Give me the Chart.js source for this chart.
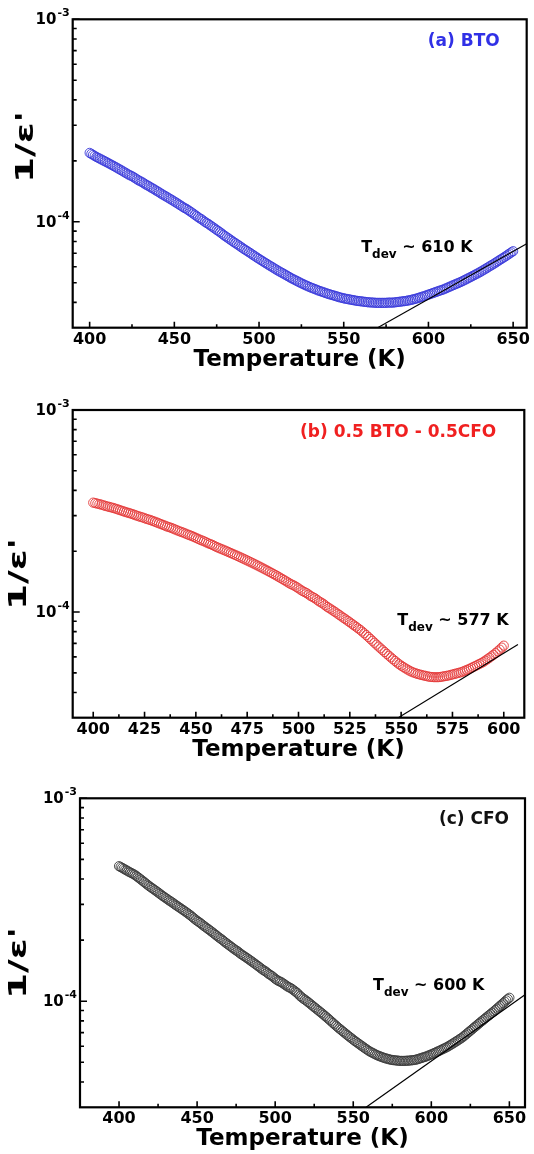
<!DOCTYPE html>
<html>
<head>
<meta charset="utf-8">
<script src="https://cdn.jsdelivr.net/npm/chart.js@4.4.1/dist/chart.umd.min.js"></script>
<style>
  html, body { margin: 0; padding: 0; background: #fff; }
  .panel { position: absolute; left: 0; width: 534px; }
</style>
</head>
<body>
<div class="panel" style="top:0;height:385px"><canvas id="chartBTO" width="534" height="385"></canvas></div>
<div class="panel" style="top:385px;height:385px"><canvas id="chartMix" width="534" height="385"></canvas></div>
<div class="panel" style="top:770px;height:384px"><canvas id="chartCFO" width="534" height="384"></canvas></div>
<script>
// ===================================================
// 1/ε' vs temperature, three samples on log axes
// ===================================================

// 1/ε' readings stored as value x 1e5, one per kelvin starting at 400 K
const T_START = 400;
const T_STEP = 1;

const invEpsBTO = [
  21.9, 21.65, 21.4, 21.15, 20.9, 20.7, 20.5, 20.3, 20.1, 19.9,
  19.7, 19.5, 19.3, 19.1, 18.9, 18.7, 18.5, 18.3, 18.1, 17.9,
  17.7, 17.5, 17.3, 17.1, 16.95, 16.8, 16.6, 16.4, 16.2, 16.0,
  15.85, 15.7, 15.5, 15.3, 15.15, 15.0, 14.8, 14.65, 14.5, 14.3,
  14.15, 14.0, 13.8, 13.65, 13.5, 13.35, 13.2, 13.05, 12.9, 12.75,
  12.6, 12.45, 12.3, 12.15, 12.0, 11.85, 11.7, 11.6, 11.45, 11.3,
  11.15, 11.0, 10.85, 10.7, 10.55, 10.4, 10.3, 10.15, 10.0, 9.88,
  9.77, 9.63, 9.5, 9.38, 9.25, 9.12, 9.0, 8.88, 8.75, 8.62,
  8.5, 8.39, 8.28, 8.17, 8.06, 7.95, 7.85, 7.75, 7.65, 7.55,
  7.45, 7.35, 7.26, 7.17, 7.08, 6.99, 6.9, 6.81, 6.73, 6.64,
  6.56, 6.48, 6.4, 6.32, 6.25, 6.17, 6.1, 6.03, 5.96, 5.89,
  5.82, 5.75, 5.69, 5.63, 5.57, 5.51, 5.45, 5.39, 5.33, 5.27,
  5.22, 5.17, 5.12, 5.07, 5.02, 4.97, 4.93, 4.88, 4.84, 4.8,
  4.76, 4.72, 4.69, 4.65, 4.62, 4.58, 4.55, 4.52, 4.49, 4.46,
  4.43, 4.4, 4.38, 4.35, 4.33, 4.3, 4.28, 4.25, 4.23, 4.21,
  4.19, 4.17, 4.16, 4.14, 4.13, 4.11, 4.10, 4.08, 4.07, 4.06,
  4.05, 4.04, 4.03, 4.02, 4.01, 4.0, 4.0, 3.99, 3.99, 3.98,
  3.98, 3.98, 3.98, 3.98, 3.98, 3.98, 3.99, 3.99, 3.99, 3.99,
  4.0, 4.01, 4.02, 4.03, 4.04, 4.05, 4.06, 4.07, 4.09, 4.1,
  4.12, 4.14, 4.16, 4.18, 4.21, 4.23, 4.26, 4.28, 4.31, 4.34,
  4.37, 4.4, 4.43, 4.46, 4.49, 4.52, 4.55, 4.58, 4.61, 4.64,
  4.68, 4.72, 4.76, 4.8, 4.84, 4.88, 4.92, 4.96, 5.0, 5.04,
  5.09, 5.14, 5.19, 5.24, 5.29, 5.34, 5.4, 5.45, 5.51, 5.56,
  5.62, 5.68, 5.75, 5.81, 5.88, 5.95, 6.02, 6.09, 6.16, 6.23,
  6.31, 6.39, 6.47, 6.55, 6.63, 6.71, 6.8, 6.89, 6.98, 7.07,
  7.16,
];

const invEpsMix = [
  34.8, 34.6, 34.4, 34.2, 34.0, 33.75, 33.5, 33.3, 33.1, 32.9,
  32.7, 32.45, 32.2, 31.95, 31.7, 31.45, 31.2, 31.0, 30.8, 30.55,
  30.3, 30.05, 29.8, 29.6, 29.4, 29.15, 28.9, 28.7, 28.5, 28.25,
  28.0, 27.75, 27.5, 27.25, 27.0, 26.75, 26.5, 26.3, 26.1, 25.85,
  25.6, 25.35, 25.1, 24.9, 24.7, 24.45, 24.2, 24.0, 23.8, 23.55,
  23.3, 23.05, 22.8, 22.6, 22.4, 22.15, 21.9, 21.7, 21.5, 21.25,
  21.0, 20.8, 20.6, 20.4, 20.2, 20.0, 19.8, 19.6, 19.4, 19.2,
  19.0, 18.8, 18.6, 18.4, 18.2, 18.0, 17.8, 17.6, 17.4, 17.2,
  17.0, 16.8, 16.6, 16.4, 16.2, 16.0, 15.8, 15.6, 15.4, 15.2,
  15.0, 14.8, 14.6, 14.4, 14.2, 14.0, 13.8, 13.65, 13.5, 13.3,
  13.1, 12.9, 12.7, 12.55, 12.4, 12.2, 12.0, 11.85, 11.7, 11.5,
  11.3, 11.15, 11.0, 10.8, 10.6, 10.45, 10.3, 10.14, 9.98, 9.82,
  9.66, 9.5, 9.35, 9.2, 9.05, 8.9, 8.75, 8.6, 8.46, 8.31,
  8.17, 8.01, 7.85, 7.69, 7.53, 7.37, 7.21, 7.05, 6.9, 6.75,
  6.61, 6.47, 6.34, 6.21, 6.08, 5.96, 5.84, 5.73, 5.62, 5.52,
  5.43, 5.35, 5.27, 5.2, 5.13, 5.07, 5.02, 4.98, 4.94, 4.91,
  4.88, 4.85, 4.83, 4.8, 4.78, 4.77, 4.76, 4.76, 4.76, 4.77,
  4.79, 4.81, 4.83, 4.85, 4.88, 4.91, 4.94, 4.97, 5.0, 5.03,
  5.07, 5.12, 5.17, 5.22, 5.28, 5.34, 5.4, 5.46, 5.53, 5.59,
  5.66, 5.75, 5.84, 5.94, 6.04, 6.15, 6.26, 6.39, 6.52, 6.67,
  6.82,
];

const invEpsCFO = [
  46.3, 45.85, 45.4, 44.95, 44.5, 44.05, 43.6, 43.2, 42.8, 42.4,
  42.0, 41.45, 40.9, 40.35, 39.8, 39.25, 38.7, 38.15, 37.6, 37.1,
  36.6, 36.15, 35.7, 35.25, 34.8, 34.35, 33.9, 33.45, 33.0, 32.6,
  32.2, 31.8, 31.4, 31.05, 30.7, 30.3, 29.9, 29.55, 29.2, 28.85,
  28.5, 28.15, 27.8, 27.45, 27.1, 26.75, 26.4, 26.0, 25.6, 25.25,
  24.9, 24.6, 24.3, 23.95, 23.6, 23.3, 23.0, 22.7, 22.4, 22.1,
  21.8, 21.5, 21.2, 20.9, 20.6, 20.35, 20.1, 19.8, 19.5, 19.25,
  19.0, 18.75, 18.5, 18.25, 18.0, 17.8, 17.6, 17.35, 17.1, 16.9,
  16.7, 16.5, 16.3, 16.1, 15.9, 15.7, 15.5, 15.3, 15.1, 14.9,
  14.7, 14.5, 14.3, 14.15, 14.0, 13.8, 13.6, 13.45, 13.3, 13.1,
  12.9, 12.75, 12.6, 12.5, 12.4, 12.25, 12.1, 11.95, 11.8, 11.7,
  11.6, 11.45, 11.3, 11.15, 11.0, 10.8, 10.6, 10.45, 10.3, 10.18,
  10.05, 9.91, 9.77, 9.63, 9.49, 9.35, 9.22, 9.09, 8.96, 8.83,
  8.71, 8.58, 8.45, 8.32, 8.2, 8.07, 7.94, 7.81, 7.69, 7.57,
  7.45, 7.34, 7.24, 7.13, 7.03, 6.93, 6.83, 6.73, 6.64, 6.55,
  6.46, 6.37, 6.29, 6.21, 6.13, 6.05, 5.98, 5.9, 5.83, 5.76,
  5.69, 5.63, 5.58, 5.53, 5.48, 5.43, 5.39, 5.35, 5.32, 5.28,
  5.25, 5.22, 5.2, 5.17, 5.15, 5.13, 5.12, 5.11, 5.1, 5.09,
  5.08, 5.08, 5.08, 5.08, 5.09, 5.09, 5.1, 5.11, 5.12, 5.13,
  5.15, 5.17, 5.2, 5.23, 5.26, 5.29, 5.32, 5.35, 5.39, 5.43,
  5.47, 5.51, 5.56, 5.6, 5.65, 5.69, 5.74, 5.79, 5.84, 5.89,
  5.94, 6.0, 6.07, 6.13, 6.2, 6.27, 6.34, 6.41, 6.49, 6.56,
  6.64, 6.74, 6.84, 6.94, 7.05, 7.15, 7.26, 7.37, 7.48, 7.59,
  7.71, 7.82, 7.94, 8.05, 8.17, 8.29, 8.41, 8.53, 8.66, 8.78,
  8.91, 9.05, 9.19, 9.33, 9.48, 9.63, 9.78, 9.94, 10.1, 10.25,
  10.4,
];

// straight fits above T_dev, [T (K), 1/ε'] end points
const fitBTO = [[570, 3.0e-5], [658, 7.8e-5]];
const fitMix = [[548.6, 3.0e-5], [606.9, 6.9e-5]];
const fitCFO = [[558.2, 3.0e-5], [660, 1.077e-4]];

// T_dev values (K)
const tdevValues = [610, 577, 600];

// axis ticks
const xTicksBTO = [400, 450, 500, 550, 600, 650];
const xMinorBTO = [425, 475, 525, 575, 625];
const xTicksMix = [400, 425, 450, 475, 500, 525, 550, 575, 600];
const xMinorMix = [412.5, 437.5, 462.5, 487.5, 512.5, 537.5, 562.5, 587.5];
const xTicksCFO = [400, 450, 500, 550, 600, 650];
const xMinorCFO = [425, 475, 525, 575, 625];
const yTicks = [1e-4, 1e-3];
const yMinor = [4e-5, 5e-5, 6e-5, 7e-5, 8e-5, 9e-5, 2e-4, 3e-4, 4e-4, 5e-4, 6e-4, 7e-4, 8e-4, 9e-4];

const FONT = '"DejaVu Sans", "Liberation Sans", sans-serif';

// frame, inward ticks, power-of-ten labels and notes on top of each panel
function makeDecor(p) {
  return {
    id: 'decor',
    afterDatasetsDraw(chart) {
      const { ctx, chartArea: a, scales: { x, y } } = chart;
      ctx.save();
      ctx.strokeStyle = '#000';
      ctx.lineWidth = 1.6;
      ctx.beginPath();
      p.xTicks.forEach(v => { const px = x.getPixelForValue(v); ctx.moveTo(px, a.bottom); ctx.lineTo(px, a.bottom - 6); });
      p.xMinor.forEach(v => { const px = x.getPixelForValue(v); ctx.moveTo(px, a.bottom); ctx.lineTo(px, a.bottom - 3.5); });
      yTicks.forEach(v => { const py = y.getPixelForValue(v); ctx.moveTo(a.left, py); ctx.lineTo(a.left + 7, py); });
      yMinor.forEach(v => { const py = y.getPixelForValue(v); ctx.moveTo(a.left, py); ctx.lineTo(a.left + 4, py); });
      ctx.stroke();

      ctx.lineWidth = 2.2;
      ctx.strokeRect(a.left, a.top, a.right - a.left, a.bottom - a.top);

      // y tick labels: 10 with a raised exponent
      ctx.fillStyle = '#000';
      ctx.textAlign = 'right';
      ctx.textBaseline = 'middle';
      yTicks.forEach(v => {
        const py = y.getPixelForValue(v);
        const exp = String(Math.round(Math.log10(v)));
        ctx.font = 'bold 11px ' + FONT;
        const ew = ctx.measureText(exp).width;
        ctx.fillText(exp, a.left - 3, py - 6);
        ctx.font = 'bold 15px ' + FONT;
        ctx.fillText('10', a.left - 4 - ew, py + 1);
      });

      // sample name
      ctx.fillStyle = p.labelColor;
      ctx.font = 'bold 17px ' + FONT;
      ctx.textAlign = 'right';
      ctx.textBaseline = 'middle';
      ctx.fillText(p.label, a.right - p.labelInset, a.top + p.labelDy);

      // T_dev note
      ctx.fillStyle = '#000';
      ctx.textAlign = 'left';
      ctx.textBaseline = 'alphabetic';
      let tx = x.getPixelForValue(p.tdevAt[0]);
      const ty = y.getPixelForValue(p.tdevAt[1]);
      ctx.font = 'bold 16px ' + FONT;
      ctx.fillText('T', tx, ty);
      tx += ctx.measureText('T').width;
      ctx.font = 'bold 12px ' + FONT;
      ctx.fillText('dev', tx, ty + 6);
      tx += ctx.measureText('dev').width;
      ctx.font = 'bold 16px ' + FONT;
      ctx.fillText(' ~ ' + p.tdev + ' K', tx, ty);

      // y axis title
      ctx.translate(p.titleX, a.top + p.titleDy);
      ctx.rotate(-Math.PI / 2);
      ctx.font = 'bold 24px ' + FONT;
      const w = ctx.measureText("1/\u03B5'").width;
      ctx.scale(72 / w, 1);
      ctx.textAlign = 'center';
      ctx.textBaseline = 'middle';
      ctx.fillText("1/\u03B5'", 0, 0);
      ctx.restore();
    },
  };
}

const panels = [
  {
    canvas: 'chartBTO', values: invEpsBTO, fit: fitBTO, tdev: tdevValues[0],
    xMin: 390, xMax: 658, xTicks: xTicksBTO, xMinor: xMinorBTO,
    color: '#3a3ada', labelColor: '#3030e6', label: '(a) BTO',
    padTop: 19.3, padRight: 4, yWidth: 72.7, xHeight: 57.3,
    labelInset: 27, labelDy: 22, tdevAt: [560.3, 7.06e-5], titleX: 26.7, titleDy: 127.7,
  },
  {
    canvas: 'chartMix', values: invEpsMix, fit: fitMix, tdev: tdevValues[1],
    xMin: 390, xMax: 610, xTicks: xTicksMix, xMinor: xMinorMix,
    color: '#e43838', labelColor: '#f02020', label: '(b) 0.5 BTO - 0.5CFO',
    padTop: 25, padRight: 9.7, yWidth: 72.7, xHeight: 52.3,
    labelInset: 28, labelDy: 23, tdevAt: [548.1, 8.65e-5], titleX: 20, titleDy: 164,
  },
  {
    canvas: 'chartCFO', values: invEpsCFO, fit: fitCFO, tdev: tdevValues[2],
    xMin: 375, xMax: 660, xTicks: xTicksCFO, xMinor: xMinorCFO,
    color: '#3a3a3a', labelColor: '#111', label: '(c) CFO',
    padTop: 28.3, padRight: 9, yWidth: 80, xHeight: 46.7,
    labelInset: 16, labelDy: 21, tdevAt: [562.7, 1.133e-4], titleX: 19.7, titleDy: 164.7,
  },
];

panels.forEach(p => {
  const points = p.values.map((v, i) => ({ x: T_START + i * T_STEP, y: v * 1e-5 }));
  const fitLine = p.fit.map(([t, v]) => ({ x: t, y: v }));

  new Chart(document.getElementById(p.canvas), {
    type: 'scatter',
    data: {
      datasets: [
        {
          data: fitLine,
          showLine: true,
          borderColor: '#000',
          borderWidth: 1.2,
          pointRadius: 0,
          order: 0,
        },
        {
          data: points,
          borderColor: p.color,
          backgroundColor: 'rgba(0,0,0,0)',
          borderWidth: 0.9,
          pointRadius: 4.6,
          order: 1,
        },
      ],
    },
    options: {
      responsive: false,
      animation: false,
      devicePixelRatio: 1,
      layout: { padding: { top: p.padTop, right: p.padRight, left: 0, bottom: 0 } },
      plugins: { legend: { display: false }, tooltip: { enabled: false } },
      scales: {
        x: {
          type: 'linear',
          min: p.xMin,
          max: p.xMax,
          afterBuildTicks: axis => { axis.ticks = p.xTicks.map(v => ({ value: v })); },
          afterFit: axis => { axis.height = p.xHeight; },
          grid: { display: false, drawTicks: false },
          border: { display: false },
          ticks: {
            autoSkip: false,
            maxRotation: 0,
            padding: 4,
            color: '#000',
            font: { family: FONT, weight: 'bold', size: 16, lineHeight: 1 },
            callback: v => String(v),
          },
          title: {
            display: true,
            text: 'Temperature (K)',
            color: '#000',
            font: { family: FONT, weight: 'bold', size: 23, lineHeight: 1 },
            padding: { top: 0, bottom: p.xHeight - 43.5 },
          },
        },
        y: {
          type: 'logarithmic',
          min: 3e-5,
          max: 1e-3,
          afterBuildTicks: axis => { axis.ticks = yTicks.map(v => ({ value: v, major: true })); },
          afterFit: axis => { axis.width = p.yWidth; },
          grid: { display: false, drawTicks: false },
          border: { display: false },
          ticks: { display: false },
        },
      },
    },
    plugins: [makeDecor(p)],
  });
});
</script>
</body>
</html>
